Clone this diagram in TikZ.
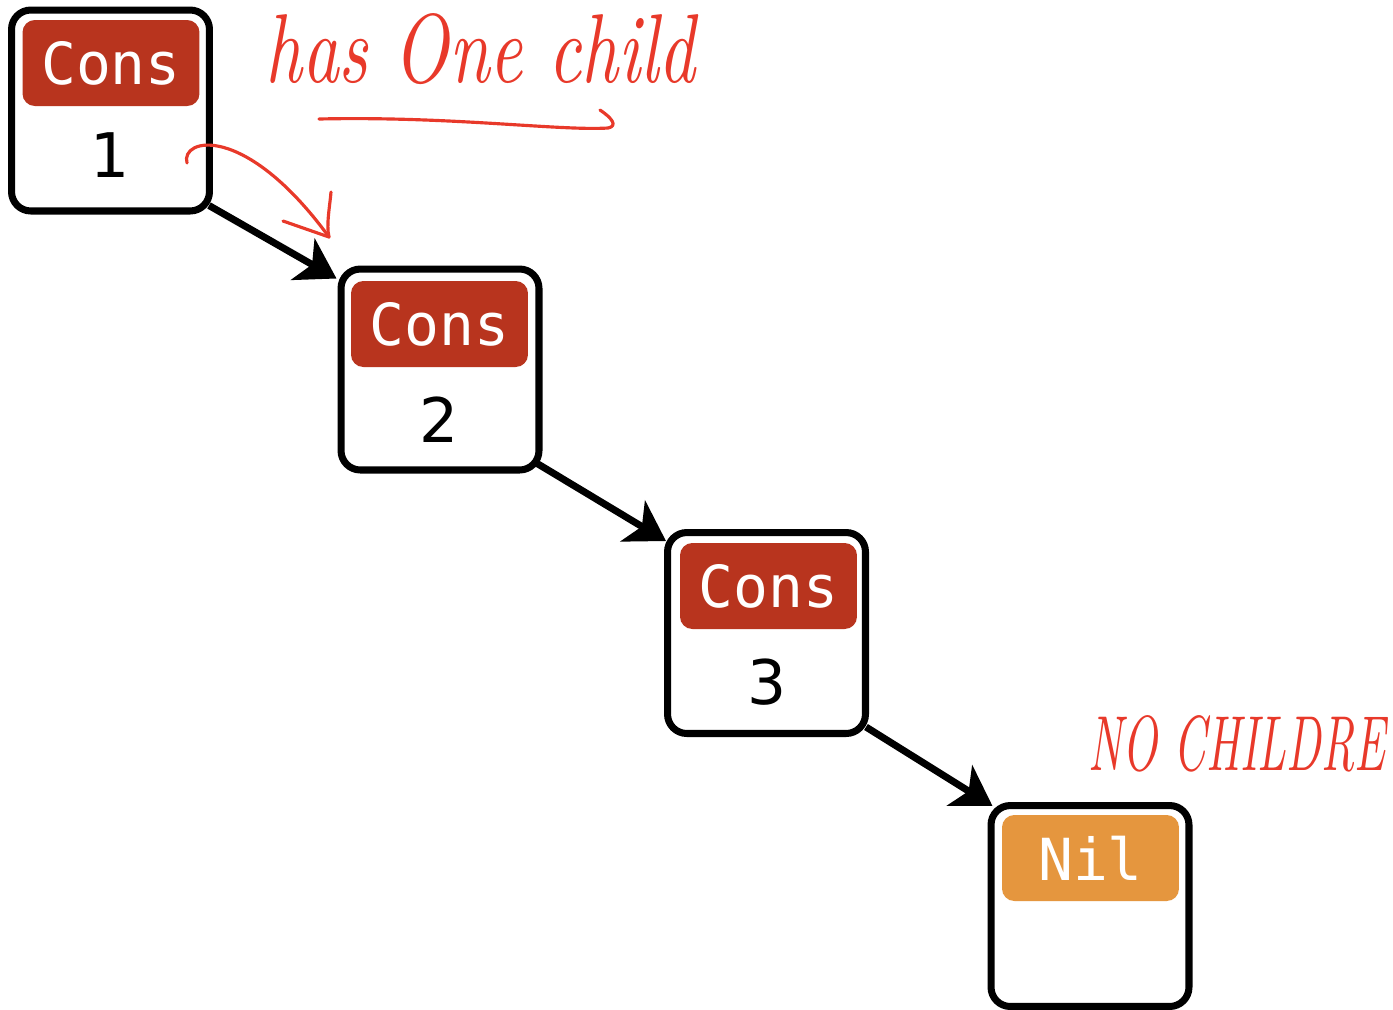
\documentclass[tikz,border=0pt]{standalone}
\usepackage{fontspec}
\newfontfamily\tagfont{DejaVu Sans Mono}
\newfontfamily\numfont{DejaVu Sans}
\usetikzlibrary{arrows.meta,calc,backgrounds}
\definecolor{consred}{HTML}{B8341E}
\definecolor{nilorange}{HTML}{E5963E}
\definecolor{inkred}{HTML}{E8392A}
\tikzset{
  cell/.style={draw=black, line width=4pt, rounded corners=11pt, fill=white,
    minimum width=3.96cm, minimum height=4.02cm, inner sep=0pt},
  tagbox/.style={rounded corners=7pt, minimum width=3.54cm, minimum height=1.72cm,
    inner sep=0pt, text=white, font=\tagfont\fontsize{33}{36}\selectfont},
  constag/.style={tagbox, fill=consred},
  niltag/.style={tagbox, fill=nilorange},
  value/.style={inner sep=0pt, font=\numfont\fontsize{35}{40}\selectfont},
  link/.style={line width=4pt, -{Stealth[length=22pt, width=27pt, inset=6pt]}},
  ink/.style={draw=inkred, line width=1.8pt, line cap=round, line join=round},
  note/.style={text=inkred, inner sep=0pt, font=\itshape}
}
\begin{document}
\begin{tikzpicture}[x=0.02cm, y=-0.02cm]
  \useasboundingbox (0,0) rectangle (1393,1009);

  % list cells
  \node[cell] (c1) at (110.5,110.5) {};
  \node[cell] (c2) at (440,369.5) {};
  \node[cell] (c3) at (766.5,633) {};
  \node[cell] (c4) at (1090,906) {};

  % constructor tags
  \node[constag] (t1) at (111,63) {Cons};
  \node[constag] (t2) at (439.5,324) {Cons};
  \node[constag] (t3) at (768.5,586) {Cons};
  \node[niltag]  (t4) at (1090.5,858) {Nil};

  % head values
  \node[value] (v1) at (110,155) {1};
  \node[value] (v2) at (439,420) {2};
  \node[value] (v3) at (767,682.5) {3};

  % tail pointers, drawn beneath the cells
  \begin{scope}[on background layer]
    \draw[link] ($(c1.south east)+(-4,-9)$) -- ($(c2.north west)+(-1,13)$);
    \draw[link] ($(c2.south east)+(-7,-11)$) -- ($(c3.north west)+(2,12)$);
    \draw[link] ($(c3.south east)+(-3,-10)$) -- ($(c4.north west)+(5,4)$);
  \end{scope}

  % annotations
  \node[note, anchor=base west] (n1) at (265,82)
    {\resizebox{8.6cm}{1.38cm}{has One child}};
  \coordinate (u0) at (319,119);
  \coordinate (u1) at (608,128);
  \coordinate (u2) at (600,110);
  \draw[ink] (u0) .. controls (450,116) and (560,131) .. (u1)
             .. controls (618,126) and (612,118) .. (u2);

  \coordinate (a0) at (187,163);
  \coordinate (a1) at (329,237);
  \coordinate (a2) at (283,221);
  \coordinate (a3) at (331,192);
  \draw[ink] (a0) .. controls (180,138) and (245,122) .. (a1);
  \draw[ink] (a2) -- (a1) .. controls (326,225) and (330,205) .. (a3);

  \node[note, anchor=base west] (n2) at (1088,770)
    {\resizebox{5.94cm}{1.1cm}{NO CHILDRE}};
\end{tikzpicture}
\end{document}
